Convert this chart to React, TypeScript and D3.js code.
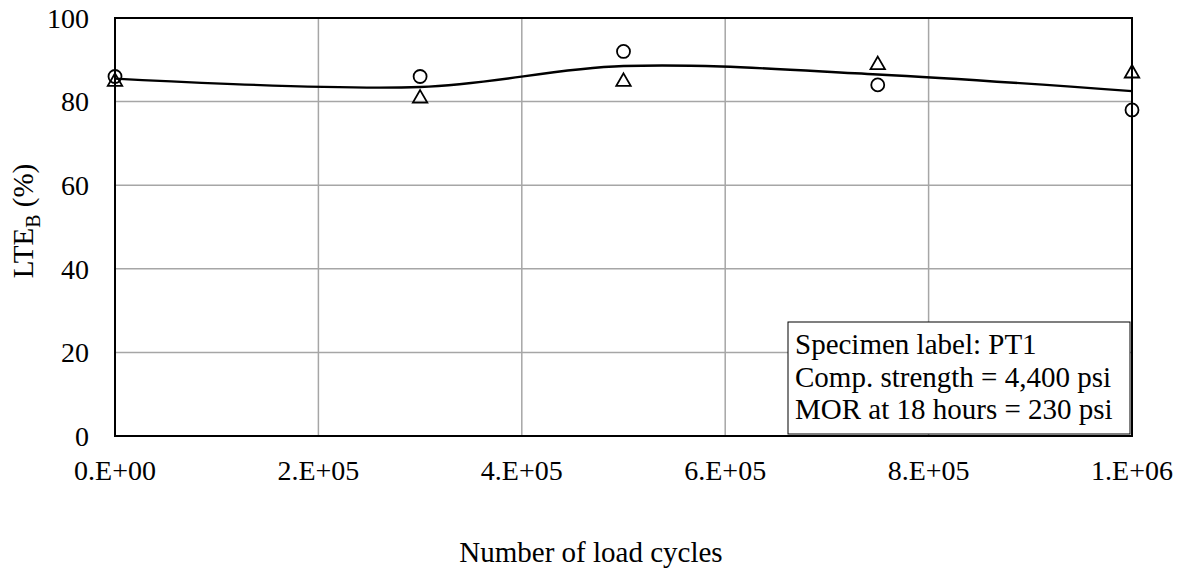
import * as d3 from 'd3';
import { useEffect, useRef } from 'react';

// 荷重回数
const cycles = [0, 300000, 500000, 750000, 1000000];
const circleValues = [86, 86, 92, 84, 78];
const triangleValues = [85, 81, 85, 89, 87];
const trendValues = [85.5, 83.5, 88.5, 86.5, 82.5];
const xTicks = [0, 200000, 400000, 600000, 800000, 1000000];
const yTicks = [0, 20, 40, 60, 80, 100];
const infoLines = ['Specimen label: PT1', 'Comp. strength = 4,400 psi', 'MOR at 18 hours = 230 psi'];

export default function App() {
    const ref = useRef<SVGSVGElement | null>(null);

    useEffect(() => {
        if (!ref.current) return;
        const svg = d3.select(ref.current);
        svg.selectAll('*').remove();

        const width = 1184;
        const height = 573;
        const margin = { top: 18, right: 52, bottom: 137, left: 115 };
        const font = '"Liberation Serif", "Times New Roman", serif';

        const x = d3.scaleLinear().domain([0, 1000000]).range([margin.left, width - margin.right]);
        const y = d3.scaleLinear().domain([0, 100]).range([height - margin.bottom, margin.top]);

        svg.attr('viewBox', `0 0 ${width} ${height}`).style('font-family', font);

        // グリッド
        const grid = svg.append('g').attr('stroke', '#a6a6a6').attr('stroke-width', 1.5);
        grid.selectAll('line.v')
            .data(xTicks.slice(1, -1))
            .join('line')
            .attr('x1', (d) => x(d))
            .attr('x2', (d) => x(d))
            .attr('y1', y(0))
            .attr('y2', y(100));
        grid.selectAll('line.h')
            .data(yTicks.slice(1, -1))
            .join('line')
            .attr('x1', x(0))
            .attr('x2', x(1000000))
            .attr('y1', (d) => y(d))
            .attr('y2', (d) => y(d));

        // 近似曲線
        const line = d3
            .line<number>()
            .x((_, i) => x(cycles[i]))
            .y((d) => y(d))
            .curve(d3.curveCatmullRom.alpha(0.5));
        svg.append('path')
            .attr('d', line(trendValues))
            .attr('fill', 'none')
            .attr('stroke', '#000')
            .attr('stroke-width', 2.4);

        // 枠
        svg.append('rect')
            .attr('x', x(0))
            .attr('y', y(100))
            .attr('width', x(1000000) - x(0))
            .attr('height', y(0) - y(100))
            .attr('fill', 'none')
            .attr('stroke', '#000')
            .attr('stroke-width', 2);

        // マーカー
        svg.append('g')
            .selectAll('circle')
            .data(circleValues)
            .join('circle')
            .attr('cx', (_, i) => x(cycles[i]))
            .attr('cy', (d) => y(d))
            .attr('r', 6.5)
            .attr('fill', 'none')
            .attr('stroke', '#000')
            .attr('stroke-width', 1.8);

        const tri = d3.symbol(d3.symbolTriangle, 90);
        svg.append('g')
            .selectAll('path')
            .data(triangleValues)
            .join('path')
            .attr('d', tri)
            .attr('transform', (d, i) => `translate(${x(cycles[i])},${y(d) + 1})`)
            .attr('fill', 'none')
            .attr('stroke', '#000')
            .attr('stroke-width', 1.8);

        // 軸ラベル
        svg.append('g')
            .selectAll('text')
            .data(yTicks)
            .join('text')
            .attr('x', x(0) - 26)
            .attr('y', (d) => y(d))
            .attr('dy', '0.35em')
            .attr('text-anchor', 'end')
            .style('font-size', '28px')
            .text((d) => d);

        const fmt = (d: number) => (d === 0 ? '0.E+00' : `${d / Math.pow(10, Math.floor(Math.log10(d)))}.E+0${Math.floor(Math.log10(d))}`);
        svg.append('g')
            .selectAll('text')
            .data(xTicks)
            .join('text')
            .attr('x', (d) => x(d))
            .attr('y', y(0) + 44)
            .attr('text-anchor', 'middle')
            .style('font-size', '28px')
            .text(fmt);

        svg.append('text')
            .attr('x', 591)
            .attr('y', 562)
            .attr('text-anchor', 'middle')
            .style('font-size', '29px')
            .text('Number of load cycles');

        const yl = svg.append('text')
            .attr('transform', `translate(33,221) rotate(-90)`)
            .attr('text-anchor', 'middle')
            .style('font-size', '29px');
        yl.append('tspan').text('LTE');
        yl.append('tspan').attr('dy', 7).style('font-size', '20px').text('B');
        yl.append('tspan').attr('dy', -7).text(' (%)');

        // 注記ボックス
        const bx = 788;
        const by = 322;
        svg.append('rect')
            .attr('x', bx)
            .attr('y', by)
            .attr('width', 342)
            .attr('height', 112)
            .attr('fill', '#fff')
            .attr('stroke', '#000')
            .attr('stroke-width', 1);
        svg.append('g')
            .selectAll('text')
            .data(infoLines)
            .join('text')
            .attr('x', bx + 7)
            .attr('y', (_, i) => by + 32 + i * 32.5)
            .style('font-size', '29px')
            .text((d) => d);
    }, []);

    return <svg ref={ref} width={1184} height={573} style={{ display: 'block', position: 'absolute', left: 0, top: 0 }} />;
}
